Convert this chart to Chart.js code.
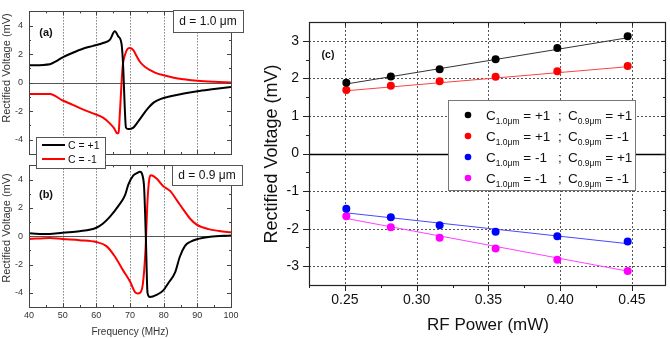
<!DOCTYPE html>
<html>
<head>
<meta charset="utf-8">
<script src="https://cdn.jsdelivr.net/npm/chart.js@4.4.0/dist/chart.umd.min.js"></script>
<style>
  html, body { margin: 0; padding: 0; background: #fff; }
  #wrap { position: relative; width: 670px; height: 338px; overflow: hidden; }
  canvas { position: absolute; }
</style>
</head>
<body>
<div id="wrap">
  <canvas id="chartC" width="438" height="338" style="left:232px;top:0"></canvas>
  <canvas id="chartB" width="250" height="184" style="left:0;top:154px"></canvas>
  <canvas id="chartA" width="250" height="175" style="left:0;top:0"></canvas>
</div>
<script>
// ---- data: panel (a), d = 1.0 um ----
const freqA_pos = [40, 46.2, 48, 50, 53, 56, 59, 62, 64, 65.5, 66.5, 67.5, 68.0, 68.4, 68.8, 69.5, 71, 72.5, 74, 75.5, 77, 79, 82, 86, 90, 95, 100];
const voltA_pos = [1.22, 1.3, 1.5, 1.78, 2.1, 2.38, 2.58, 2.78, 3.0, 3.6, 3.25, 2.7, 1.0, -1.5, -3.15, -3.25, -3.15, -2.7, -2.2, -1.75, -1.4, -1.15, -0.95, -0.75, -0.6, -0.45, -0.3];
const freqA_neg = [40, 46.2, 50, 53, 56, 59, 62, 64, 65.3, 66.2, 66.6, 67.0, 67.8, 68.5, 69.2, 69.8, 71, 72, 73, 74.5, 76, 78, 80, 83, 86, 90, 95, 100];
const voltA_neg = [-0.8, -0.8, -1.25, -1.55, -1.87, -2.15, -2.45, -2.85, -3.2, -3.55, -3.5, -2.1, 1.1, 1.95, 2.35, 2.43, 2.28, 1.85, 1.45, 1.1, 0.88, 0.65, 0.52, 0.35, 0.24, 0.13, 0.06, 0.02];

// ---- data: panel (b), d = 0.9 um ----
const freqB_pos = [40, 46, 50, 55, 60, 62, 64, 66.5, 68.5, 69.5, 71, 72, 73, 73.7, 74.2, 74.7, 75.2, 75.9, 77.9, 79.9, 81.4, 83.4, 84.8, 86.3, 87.8, 90.3, 93.8, 100];
const voltB_pos = [0.2, 0.15, 0.25, 0.35, 0.6, 0.9, 1.36, 2.12, 2.88, 3.64, 4.29, 4.45, 4.55, 4.3, 3.4, 0, -4.0, -4.3, -4.15, -3.83, -3.3, -2.55, -1.45, -0.7, -0.41, -0.19, -0.04, 0.05];
const freqB_neg = [40, 46.2, 50, 55, 60, 63, 65.5, 68, 70, 71.5, 72.3, 73, 73.8, 74.6, 75.2, 75.7, 76.2, 77.9, 79.9, 81.9, 83.9, 85.8, 87.8, 89.8, 93.3, 96.5, 100];
const voltB_neg = [-0.2, -0.12, -0.2, -0.28, -0.41, -0.7, -1.43, -2.43, -3.2, -3.95, -4.05, -4.0, -3.4, -1.0, 2.5, 4.0, 4.3, 4.07, 3.53, 3.2, 2.55, 1.9, 1.25, 0.82, 0.5, 0.37, 0.27];

const seriesAB = ['C = +1', 'C = -1'];
const freqTicks = [40, 50, 60, 70, 80, 90, 100];
const voltTicksAB = [-4, -2, 0, 2, 4];

// ---- data: panel (c) ----
const powerC = [0.251, 0.282, 0.316, 0.355, 0.398, 0.447];
const voltPP = [1.88, 2.05, 2.24, 2.51, 2.81, 3.12];
const voltPM = [1.69, 1.80, 1.92, 2.04, 2.19, 2.33];
const voltMP = [-1.47, -1.70, -1.91, -2.08, -2.20, -2.34];
const voltMM = [-1.67, -1.96, -2.24, -2.53, -2.83, -3.13];
const fitPower = [0.251, 0.447];
const fitPP = [1.85, 3.08];
const fitPM = [1.67, 2.31];
const fitMP = [-1.58, -2.40];
const fitMM = [-1.73, -3.13];
const seriesC10 = ['+1', '+1', '-1', '-1'];
const seriesC09 = ['+1', '-1', '+1', '-1'];
const colorsC = ['#000000', '#ff0000', '#0000ff', '#ff00ff'];
const fitColorsC = ['#333333', '#ff4040', '#4848ff', '#ff40ff'];
const powerTicks = [0.25, 0.30, 0.35, 0.40, 0.45];
const voltTicksC = [-3, -2, -1, 0, 1, 2, 3];

const FONT = '"Liberation Sans", Arial, sans-serif';

function toPts(xs, ys) {
    return xs.map((x, i) => ({ x: x, y: ys[i] }));
}

function midpoints(arr) {
    const out = [];
    for (let i = 0; i < arr.length - 1; i++) out.push((arr[i] + arr[i + 1]) / 2);
    return out;
}

function seg(ctx, x1, y1, x2, y2) {
    ctx.beginPath();
    ctx.moveTo(x1, y1);
    ctx.lineTo(x2, y2);
    ctx.stroke();
}

function vText(ctx, text, x, y, font, color) {
    ctx.save();
    ctx.translate(x, y);
    ctx.rotate(-Math.PI / 2);
    ctx.font = font;
    ctx.fillStyle = color;
    ctx.textAlign = 'center';
    ctx.textBaseline = 'middle';
    ctx.fillText(text, 0, 0);
    ctx.restore();
}

function boxText(ctx, text, x, y, w, h, font) {
    ctx.fillStyle = '#fff';
    ctx.fillRect(x, y, w, h);
    ctx.strokeStyle = '#555';
    ctx.lineWidth = 1;
    ctx.strokeRect(x + 0.5, y + 0.5, w, h);
    ctx.font = font;
    ctx.fillStyle = '#111';
    ctx.textAlign = 'center';
    ctx.textBaseline = 'middle';
    ctx.fillText(text, x + w / 2, y + h / 2 + 1);
}

// grid, frame, tick marks and labels of the two frequency panels
const leftPanelDecor = {
    id: 'leftPanelDecor',
    beforeDatasetsDraw(chart, args, opts) {
        const { ctx, chartArea: a, scales: { x, y } } = chart;
        ctx.save();
        ctx.lineWidth = 1;
        ctx.strokeStyle = '#444';
        ctx.setLineDash([1, 2]);
        freqTicks.slice(1, -1).forEach(f => {
            const px = Math.round(x.getPixelForValue(f)) + 0.5;
            seg(ctx, px, a.top, px, a.bottom);
        });
        ctx.setLineDash([]);
        ctx.strokeStyle = '#555';
        const py = Math.round(y.getPixelForValue(0)) + 0.5;
        seg(ctx, a.left, py, a.right, py);
        ctx.restore();
    },
    afterDraw(chart, args, opts) {
        const { ctx, chartArea: a, scales: { x, y } } = chart;
        ctx.save();
        ctx.strokeStyle = '#444';
        ctx.lineWidth = 1;
        ctx.strokeRect(Math.round(a.left) + 0.5, Math.round(a.top) + 0.5, Math.round(a.right - a.left), Math.round(a.bottom - a.top));
        // inward tick marks
        const xt = [[freqTicks, 4], [midpoints(freqTicks), 2]];
        xt.forEach(([vals, len]) => vals.forEach(v => {
            const px = Math.round(x.getPixelForValue(v)) + 0.5;
            seg(ctx, px, a.bottom, px, a.bottom - len);
            seg(ctx, px, a.top, px, a.top + len);
        }));
        const yt = [[voltTicksAB, 4], [midpoints(voltTicksAB), 2]];
        yt.forEach(([vals, len]) => vals.forEach(v => {
            const py = Math.round(y.getPixelForValue(v)) + 0.5;
            seg(ctx, a.left, py, a.left + len, py);
            seg(ctx, a.right, py, a.right - len, py);
        }));
        // panel tag
        ctx.font = 'bold 11px ' + FONT;
        ctx.fillStyle = '#111';
        ctx.textAlign = 'center';
        ctx.textBaseline = 'middle';
        ctx.fillText(opts.tag, 46, opts.tagY);
        // thickness box
        boxText(ctx, opts.dText, opts.box[0], opts.box[1], opts.box[2], opts.box[3], '12px ' + FONT);
        // y title
        vText(ctx, 'Rectified Voltage (mV)', 7, opts.titleY, '11px ' + FONT, '#333');
        if (opts.xTitle) {
            ctx.font = '10px ' + FONT;
            ctx.fillStyle = '#333';
            ctx.textAlign = 'center';
            ctx.fillText('Frequency (MHz)', 130, opts.xTitleY);
        }
        if (opts.legend) {
            const lx = 36, ly = 137, lw = 69, lh = 31;
            ctx.fillStyle = '#fff';
            ctx.fillRect(lx, ly, lw, lh);
            ctx.strokeStyle = '#555';
            ctx.strokeRect(lx + 0.5, ly + 0.5, lw, lh);
            chart.data.datasets.forEach((ds, i) => {
                const ry = ly + 8 + i * 14;
                ctx.strokeStyle = ds.borderColor;
                ctx.lineWidth = 2;
                seg(ctx, lx + 6, ry, lx + 29, ry);
                ctx.font = '10.5px ' + FONT;
                ctx.fillStyle = '#111';
                ctx.textAlign = 'left';
                ctx.textBaseline = 'middle';
                ctx.fillText(seriesAB[i], lx + 32, ry + 1);
            });
        }
        ctx.restore();
    }
};

function leftPanel(id, posX, posY, negX, negY, showX, padding, xHeight, deco) {
    return new Chart(document.getElementById(id), {
        type: 'line',
        data: {
            datasets: [
                { label: seriesAB[0], data: toPts(posX, posY), borderColor: '#000', borderWidth: 2, pointRadius: 0, cubicInterpolationMode: 'monotone' },
                { label: seriesAB[1], data: toPts(negX, negY), borderColor: '#ff0000', borderWidth: 2, pointRadius: 0, cubicInterpolationMode: 'monotone' }
            ]
        },
        options: {
            responsive: false,
            animation: false,
            devicePixelRatio: 1,
            layout: { padding: padding },
            scales: {
                x: {
                    type: 'linear', min: 40, max: 100,
                    grid: { display: false, drawTicks: false },
                    border: { display: false },
                    afterBuildTicks: s => { s.ticks = freqTicks.map(v => ({ value: v })); },
                    afterFit: s => { s.height = xHeight; },
                    ticks: { display: showX, padding: 3, color: '#333', font: { family: FONT, size: 9 }, maxRotation: 0 }
                },
                y: {
                    type: 'linear', min: -5, max: 5,
                    grid: { display: false, drawTicks: false },
                    border: { display: false },
                    afterBuildTicks: s => { s.ticks = voltTicksAB.map(v => ({ value: v })); },
                    afterFit: s => { s.width = 29; },
                    ticks: { padding: 6, color: '#333', font: { family: FONT, size: 9 } }
                }
            },
            plugins: {
                legend: { display: false },
                tooltip: { enabled: false },
                leftPanelDecor: deco
            }
        },
        plugins: [leftPanelDecor]
    });
}

leftPanel('chartB', freqB_pos, voltB_pos, freqB_neg, voltB_neg, true,
    { left: 0, top: 0, right: 19, bottom: 0 }, 31,
    { tag: '(b)', tagY: 41, dText: 'd = 0.9 \u03bcm', box: [172, 11, 70, 20], titleY: 74, xTitle: true, xTitleY: 178, legend: false });

leftPanel('chartA', freqA_pos, voltA_pos, freqA_neg, voltA_neg, false,
    { left: 0, top: 1, right: 19, bottom: 21 }, 0,
    { tag: '(a)', tagY: 33, dText: 'd = 1.0 \u03bcm', box: [173, 10, 70, 22], titleY: 68, xTitle: false, legend: true });

// ---- panel (c) ----
const powerPanelDecor = {
    id: 'powerPanelDecor',
    beforeDatasetsDraw(chart) {
        const { ctx, chartArea: a, scales: { x, y } } = chart;
        ctx.save();
        ctx.lineWidth = 1;
        ctx.strokeStyle = '#555';
        ctx.setLineDash([2, 2]);
        powerTicks.forEach(v => {
            const px = Math.round(x.getPixelForValue(v)) + 0.5;
            seg(ctx, px, a.top, px, a.bottom);
        });
        voltTicksC.filter(v => v !== 0).forEach(v => {
            const py = Math.round(y.getPixelForValue(v)) + 0.5;
            seg(ctx, a.left, py, a.right, py);
        });
        ctx.setLineDash([]);
        ctx.strokeStyle = '#000';
        ctx.lineWidth = 1.3;
        const py0 = Math.round(y.getPixelForValue(0)) + 0.5;
        seg(ctx, a.left, py0, a.right, py0);
        ctx.restore();
    },
    afterDraw(chart) {
        const { ctx, chartArea: a, scales: { x, y } } = chart;
        ctx.save();
        ctx.strokeStyle = '#222';
        ctx.lineWidth = 1.2;
        ctx.strokeRect(Math.round(a.left) + 0.5, Math.round(a.top) + 0.5, Math.round(a.right - a.left), Math.round(a.bottom - a.top));
        ctx.lineWidth = 1;
        const xMinor = [0.225].concat(midpoints(powerTicks));
        [[powerTicks, 6, 4], [xMinor, 3, 2]].forEach(([vals, out, inn]) => vals.forEach(v => {
            const px = Math.round(x.getPixelForValue(v)) + 0.5;
            seg(ctx, px, a.bottom, px, a.bottom + out);
            seg(ctx, px, a.top, px, a.top + inn);
        }));
        const yMinor = midpoints(voltTicksC);
        [[voltTicksC, 6, 4], [yMinor, 3, 2]].forEach(([vals, out, inn]) => vals.forEach(v => {
            const py = Math.round(y.getPixelForValue(v)) + 0.5;
            seg(ctx, a.left - out, py, a.left, py);
            seg(ctx, a.right, py, a.right - inn, py);
        }));
        // panel tag
        ctx.font = 'bold 10.5px ' + FONT;
        ctx.fillStyle = '#111';
        ctx.textAlign = 'center';
        ctx.textBaseline = 'middle';
        ctx.fillText('(c)', 96, 55);
        // axis titles
        vText(ctx, 'Rectified Voltage (mV)', 40, 154, '18px ' + FONT, '#111');
        ctx.font = '17px ' + FONT;
        ctx.fillStyle = '#111';
        ctx.textAlign = 'center';
        ctx.textBaseline = 'middle';
        ctx.fillText('RF Power (mW)', 256, 325);
        // legend
        const lx = 216, ly = 100, lw = 187, lh = 90;
        ctx.fillStyle = '#fff';
        ctx.fillRect(lx, ly, lw, lh);
        ctx.strokeStyle = '#777';
        ctx.strokeRect(lx + 0.5, ly + 0.5, lw, lh);
        ctx.textAlign = 'left';
        ctx.textBaseline = 'alphabetic';
        seriesC10.forEach((c10, i) => {
            const ry = ly + 15 + i * 21;
            ctx.fillStyle = colorsC[i];
            ctx.beginPath();
            ctx.arc(lx + 20, ry, 3.3, 0, Math.PI * 2);
            ctx.fill();
            ctx.fillStyle = '#111';
            let tx = lx + 38;
            const base = ry + 5;
            ctx.font = '13.5px ' + FONT;
            ctx.fillText('C', tx, base); tx += ctx.measureText('C').width;
            ctx.font = '8.5px ' + FONT;
            ctx.fillText('1.0\u03bcm', tx, base + 4); tx += ctx.measureText('1.0\u03bcm').width;
            ctx.font = '13.5px ' + FONT;
            ctx.fillText(' = ' + c10, tx, base);
            ctx.fillText(';', lx + 110, base);
            tx = lx + 120;
            ctx.fillText('C', tx, base); tx += ctx.measureText('C').width;
            ctx.font = '8.5px ' + FONT;
            ctx.fillText('0.9\u03bcm', tx, base + 4); tx += ctx.measureText('0.9\u03bcm').width;
            ctx.font = '13.5px ' + FONT;
            ctx.fillText(' = ' + seriesC09[i], tx, base);
        });
        ctx.restore();
    }
};

const pointSets = [voltPP, voltPM, voltMP, voltMM];
const fitSets = [fitPP, fitPM, fitMP, fitMM];
const datasetsC = [];
pointSets.forEach((vals, i) => datasetsC.push({
    data: toPts(powerC, vals), showLine: false, pointRadius: 4,
    pointBackgroundColor: colorsC[i], pointBorderColor: colorsC[i], pointBorderWidth: 0
}));
fitSets.forEach((vals, i) => datasetsC.push({
    data: toPts(fitPower, vals), borderColor: fitColorsC[i], borderWidth: 1, pointRadius: 0
}));

new Chart(document.getElementById('chartC'), {
    type: 'line',
    data: { datasets: datasetsC },
    options: {
        responsive: false,
        animation: false,
        devicePixelRatio: 1,
        layout: { padding: { left: 0, top: 22, right: 5, bottom: 0 } },
        scales: {
            x: {
                type: 'linear', min: 0.225, max: 0.473,
                grid: { display: false, drawTicks: false },
                border: { display: false },
                afterBuildTicks: s => { s.ticks = powerTicks.map(v => ({ value: v })); },
                afterFit: s => { s.height = 53; },
                ticks: { padding: 7, color: '#111', font: { family: FONT, size: 14 }, maxRotation: 0, callback: v => v.toFixed(2) }
            },
            y: {
                type: 'linear', min: -3.5, max: 3.5,
                grid: { display: false, drawTicks: false },
                border: { display: false },
                afterBuildTicks: s => { s.ticks = voltTicksC.map(v => ({ value: v })); },
                afterFit: s => { s.width = 77; },
                ticks: { padding: 10, color: '#111', font: { family: FONT, size: 14 } }
            }
        },
        plugins: {
            legend: { display: false },
            tooltip: { enabled: false }
        }
    },
    plugins: [powerPanelDecor]
});
</script>
</body>
</html>
